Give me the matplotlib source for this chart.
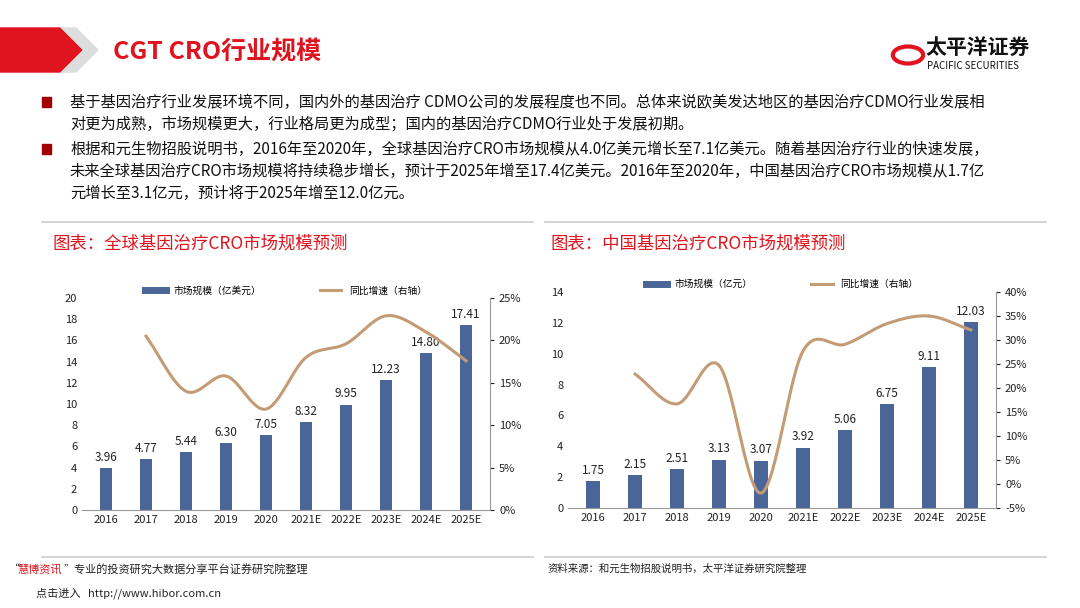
import numpy as np
import matplotlib.pyplot as plt
from matplotlib.patches import Polygon
from matplotlib.lines import Line2D

plt.rcParams['font.family'] = ['Noto Sans CJK SC', 'DejaVu Sans']

years = ['2016', '2017', '2018', '2019', '2020', '2021E', '2022E', '2023E', '2024E', '2025E']
global_size = [3.96, 4.77, 5.44, 6.30, 7.05, 8.32, 9.95, 12.23, 14.80, 17.41]
global_growth = [np.nan, 20.5, 14.0, 15.8, 11.9, 18.0, 19.6, 22.9, 21.0, 17.6]
china_size = [1.75, 2.15, 2.51, 3.13, 3.07, 3.92, 5.06, 6.75, 9.11, 12.03]
china_growth = [np.nan, 22.9, 16.7, 24.7, -1.9, 27.7, 29.1, 33.4, 35.0, 32.1]

BAR = '#4A6699'
LINE = '#C39B74'
RED = '#E0141E'


def smooth(x, y, n=30):
    # Catmull-Rom curve through the points (like Excel smoothed line)
    x = np.asarray(x, float); y = np.asarray(y, float)
    px = np.concatenate([[2 * x[0] - x[1]], x, [2 * x[-1] - x[-2]]])
    py = np.concatenate([[2 * y[0] - y[1]], y, [2 * y[-1] - y[-2]]])
    xs, ys = [], []
    t = np.linspace(0, 1, n)
    for i in range(1, len(px) - 2):
        for p, out in ((px, xs), (py, ys)):
            p0, p1, p2, p3 = p[i - 1], p[i], p[i + 1], p[i + 2]
            out.extend(0.5 * (2 * p1 + (-p0 + p2) * t + (2 * p0 - 5 * p1 + 4 * p2 - p3) * t ** 2
                              + (-p0 + 3 * p1 - 3 * p2 + p3) * t ** 3))
    return xs, ys


def draw(rect, sizes, growth, ymax, ystep, rmin, rmax, bar_label):
    ax = fig.add_axes(rect)
    x = np.arange(len(years))
    ax.bar(x, sizes, width=0.32, color=BAR, zorder=2)
    for xi, v in zip(x, sizes):
        ax.text(xi, v + ymax * 0.02, f'{v:.2f}', ha='center', va='bottom', fontsize=8.5, color='#222')
    ax.set_ylim(0, ymax)
    ax.set_yticks(np.arange(0, ymax + 0.01, ystep))
    ax.set_xlim(-0.6, len(years) - 0.4)
    ax.set_xticks(x, years)
    for s in ('top', 'right', 'left'):
        ax.spines[s].set_visible(False)
    ax.spines['bottom'].set_color('#999')
    ax.tick_params(axis='both', labelsize=8, length=0, colors='#222')
    ax2 = ax.twinx()
    gx = x[1:]
    sx, sy = smooth(gx, np.array(growth[1:]))
    ax2.plot(sx, sy, color=LINE, lw=2.2)
    ax2.set_ylim(rmin, rmax)
    ax2.set_yticks(np.arange(rmin, rmax + 0.01, 5))
    ax2.set_yticklabels([f'{int(v)}%' for v in np.arange(rmin, rmax + 0.01, 5)])
    for s in ('top', 'left', 'bottom'):
        ax2.spines[s].set_visible(False)
    ax2.spines['right'].set_color('#999')
    ax2.tick_params(axis='y', labelsize=8, length=3, colors='#222')
    handles = [Line2D([], [], color=BAR, lw=5), Line2D([], [], color=LINE, lw=2.2)]
    ax.legend(handles, [bar_label, '同比增速（右轴）'], loc='upper center', ncol=2, frameon=False,
              fontsize=7, bbox_to_anchor=(0.5, 1.1), handlelength=2.2, columnspacing=6)
    return ax


fig = plt.figure(figsize=(10.8, 6.08), dpi=100)
W, H = 1080, 608

# header banner
fig.patches.append(Polygon([[0, 1 - 28 / H], [60 / W, 1 - 28 / H], [82 / W, 1 - 50 / H], [60 / W, 1 - 72 / H], [0, 1 - 72 / H]],
                           closed=True, transform=fig.transFigure, color=RED))
fig.patches.append(Polygon([[62 / W, 1 - 28 / H], [76 / W, 1 - 28 / H], [98 / W, 1 - 50 / H], [76 / W, 1 - 72 / H], [62 / W, 1 - 72 / H], [84 / W, 1 - 50 / H]],
                           closed=True, transform=fig.transFigure, color='#DDDDDD'))
fig.text(113 / W, 1 - 52 / H, 'CGT CRO行业规模', color=RED, fontsize=18, fontweight='bold', va='center')
fig.text(925 / W, 1 - 47 / H, '太平洋证券', fontsize=15, fontweight='bold', va='center', color='#111')
fig.text(927 / W, 1 - 66 / H, 'PACIFIC SECURITIES', fontsize=7, va='center', color='#111')
fig.patches.append(plt.Circle((908 / W, 1 - 55 / H), 0.014, transform=fig.transFigure, fill=False, ec=RED, lw=3))

para = [
    ('基于基因治疗行业发展环境不同，国内外的基因治疗 CDMO公司的发展程度也不同。总体来说欧美发达地区的基因治疗CDMO行业发展相', 102),
    ('对更为成熟，市场规模更大，行业格局更为成型；国内的基因治疗CDMO行业处于发展初期。', 124),
    ('根据和元生物招股说明书，2016年至2020年，全球基因治疗CRO市场规模从4.0亿美元增长至7.1亿美元。随着基因治疗行业的快速发展，', 149),
    ('未来全球基因治疗CRO市场规模将持续稳步增长，预计于2025年增至17.4亿美元。2016年至2020年，中国基因治疗CRO市场规模从1.7亿', 171),
    ('元增长至3.1亿元，预计将于2025年增至12.0亿元。', 193),
]
for txt, y in para:
    fig.text(70 / W, 1 - y / H, txt, fontsize=11, va='center', color='#111')
for y in (102, 149):
    fig.patches.append(plt.Rectangle((42 / W, 1 - (y + 5) / H), 9 / W, 10 / H, transform=fig.transFigure, color='#A00000'))

for x0, x1 in ((42, 533), (545, 1046)):
    fig.add_artist(Line2D([x0 / W, x1 / W], [1 - 222 / H] * 2, color='#CCCCCC', lw=1.2))
    fig.add_artist(Line2D([x0 / W, x1 / W], [1 - 557 / H] * 2, color='#CCCCCC', lw=1.2))
fig.text(52 / W, 1 - 244 / H, '图表：全球基因治疗CRO市场规模预测', color=RED, fontsize=12.5, va='center')
fig.text(550 / W, 1 - 244 / H, '图表：中国基因治疗CRO市场规模预测', color=RED, fontsize=12.5, va='center')

draw([82 / W, 1 - 510 / H, 408 / W, 212 / H], global_size, global_growth, 20, 2, 0, 25, '市场规模（亿美元）')
draw([568 / W, 1 - 508 / H, 428 / W, 216 / H], china_size, china_growth, 14, 2, -5, 40, '市场规模（亿元）')

fig.text(548 / W, 1 - 569 / H, '资料来源：和元生物招股说明书，太平洋证券研究院整理', fontsize=7.5, va='center', color='#222')
fig.text(8 / W, 1 - 569 / H, '“', fontsize=8, va='center')
fig.text(17 / W, 1 - 569 / H, '慧博资讯', color=RED, fontsize=8, va='center')
fig.text(64 / W, 1 - 569 / H, '”专业的投资研究大数据分享平台证券研究院整理', fontsize=8, va='center', color='#222')
fig.text(36 / W, 1 - 593 / H, '点击进入   http://www.hibor.com.cn', fontsize=8, va='center', color='#222')

fig.savefig('out.png', dpi=100)
